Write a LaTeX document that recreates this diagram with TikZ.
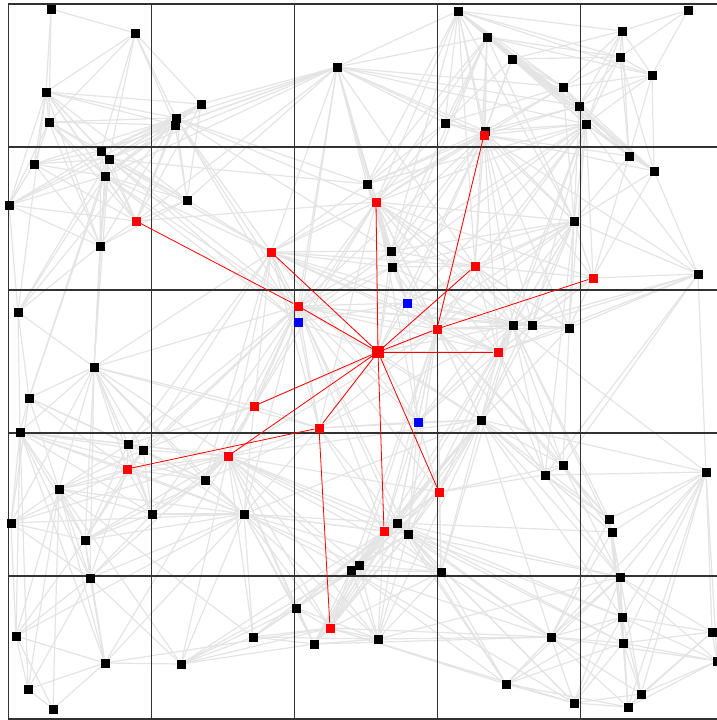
\documentclass[tikz,border=0pt]{standalone}
\usepackage{tikz}
\usetikzlibrary{backgrounds}
\definecolor{cLink}{RGB}{228,228,228}
\definecolor{cGrid}{RGB}{50,50,50}
\tikzset{
	plainsq/.style ={rectangle, fill=black, minimum size=9pt, inner sep=0pt},
	redsq/.style   ={plainsq, fill=red},
	bluesq/.style  ={plainsq, fill=blue},
	hubsq/.style   ={plainsq, fill=red, minimum size=12pt},
	% links
	graylink/.style={draw=cLink, line width=1.2pt},
	redlink/.style ={draw=red, line width=0.8pt},
	gridline/.style={draw=cGrid, line width=1.1pt},
}
% index/x/y/style of every site (pixel units, y down)
\newcommand{\sitelist}{%
	1/51/9/plainsq, 2/688/10/plainsq, 3/458/11/plainsq, 4/622/31/plainsq, 5/135/33/plainsq,
	6/487/37/plainsq, 7/620/57/plainsq, 8/512/59/plainsq, 9/337/67/plainsq, 10/652/75/plainsq,
	11/563/87/plainsq, 12/46/92/plainsq, 13/201/104/plainsq, 14/579/106/plainsq, 15/176/118/plainsq,
	16/49/122/plainsq, 17/445/123/plainsq, 18/586/124/plainsq, 19/175/125/plainsq, 20/485/131/plainsq,
	21/484/135/redsq, 22/101/151/plainsq, 23/629/156/plainsq, 24/109/159/plainsq, 25/34/164/plainsq,
	26/654/171/plainsq, 27/105/176/plainsq, 28/367/184/plainsq, 29/187/200/plainsq, 30/376/202/redsq,
	31/9/205/plainsq, 32/136/221/redsq, 33/574/221/plainsq, 34/100/246/plainsq, 35/391/251/plainsq,
	36/271/252/redsq, 37/475/266/redsq, 38/392/267/plainsq, 39/698/274/plainsq, 40/593/278/redsq,
	41/407/303/bluesq, 42/298/306/redsq, 43/18/312/plainsq, 44/298/322/bluesq, 45/513/325/plainsq,
	46/532/325/plainsq, 47/569/328/plainsq, 48/437/329/redsq, 49/378/352/hubsq, 50/498/352/redsq,
	51/94/367/plainsq, 52/29/398/plainsq, 53/254/406/redsq, 54/481/420/plainsq, 55/418/422/bluesq,
	56/319/428/redsq, 57/20/432/plainsq, 58/128/444/plainsq, 59/143/450/plainsq, 60/228/456/redsq,
	61/563/465/plainsq, 62/127/469/redsq, 63/706/472/plainsq, 64/545/475/plainsq, 65/205/480/plainsq,
	66/59/489/plainsq, 67/439/492/redsq, 68/152/514/plainsq, 69/244/514/plainsq, 70/609/519/plainsq,
	71/11/523/plainsq, 72/397/523/plainsq, 73/384/531/redsq, 74/612/532/plainsq, 75/408/534/plainsq,
	76/85/540/plainsq, 77/359/565/plainsq, 78/351/570/plainsq, 79/441/572/plainsq, 80/90/578/plainsq,
	81/620/577/plainsq, 82/296/608/plainsq, 83/622/617/plainsq, 84/330/628/redsq, 85/712/632/plainsq,
	86/16/636/plainsq, 87/551/637/plainsq, 88/253/637/plainsq, 89/378/639/plainsq, 90/623/643/plainsq,
	91/314/644/plainsq, 92/717/661/plainsq, 93/105/663/plainsq, 94/181/664/plainsq, 95/506/684/plainsq,
	96/28/689/plainsq, 97/641/694/plainsq, 98/574/703/plainsq, 99/628/707/plainsq, 100/53/709/plainsq}

\begin{document}
\begin{tikzpicture}[x=1pt, y=-1pt]
	\useasboundingbox (0,0) rectangle (717,720);
	% ---------------- sites ----------------
	\foreach \i/\px/\py/\kind in \sitelist {
		\node[\kind] (n\i) at (\px,\py) {};
	}
	\begin{scope}[on background layer]
		% ---------------- gray links ----------------
		\foreach \i/\xa/\ya/\ka in \sitelist {
			\foreach \j/\xb/\yb/\kb in \sitelist {
				\ifnum\j>\i
					\pgfmathsetmacro\dist{veclen(\xb-\xa,\yb-\ya)}
					\pgfmathtruncatemacro\pick{(\dist<135) || ((\dist<260) && (mod(\i*7+\j*3,3)==0))}
					\ifnum\pick=1 \draw[graylink] (n\i) -- (n\j); \fi
				\fi
			}
		}
		% ---------------- grid ----------------
		\foreach \k in {0,...,5} {
			\draw[gridline] ({8.3+143*\k},4) -- ++(0,715);
			\draw[gridline] (8.3,{4+143*\k}) -- ++(715,0);
		}
		% ---------------- red tree ----------------
		\foreach \t in {30,36,37,42,48,50,53,56,60,67,73}
			\draw[redlink] (n49) -- (n\t);
		\draw[redlink] (n48) -- (n21);
		\draw[redlink] (n48) -- (n40);
		\draw[redlink] (n42) -- (n32);
		\draw[redlink] (n56) -- (n62);
		\draw[redlink] (n56) -- (n84);
	\end{scope}
\end{tikzpicture}
\end{document}
